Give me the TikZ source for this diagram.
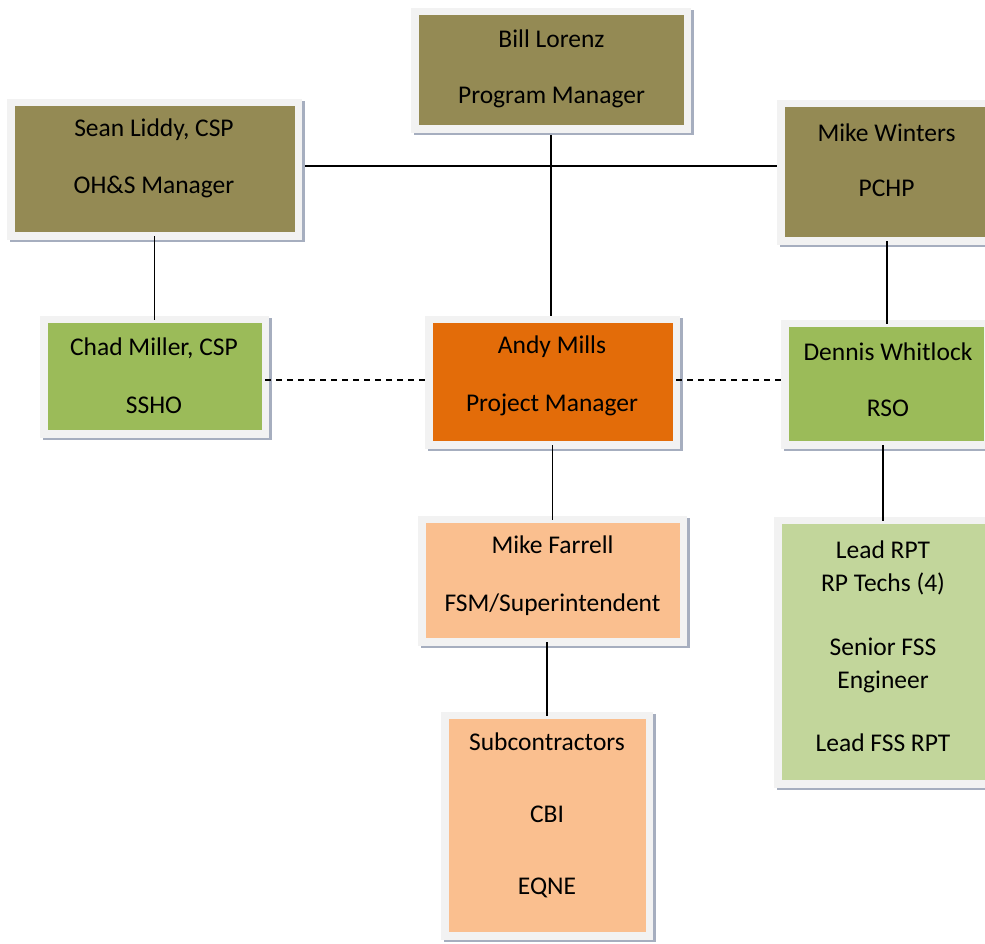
\documentclass[tikz,border=0pt]{standalone}
\usepackage{fontspec}
\setmainfont{Carlito}
\usetikzlibrary{backgrounds}
\definecolor{olivec}{HTML}{948A54}
\definecolor{orangec}{HTML}{E36C09}
\definecolor{greenc}{HTML}{9BBB59}
\definecolor{lgreenc}{HTML}{C2D69B}
\definecolor{peachc}{HTML}{FABF8F}
\definecolor{framec}{HTML}{F2F2F2}
\definecolor{shadowc}{HTML}{A6AEBF}
\tikzset{
  orgbox/.style={rectangle, inner sep=0pt, outer sep=0pt, draw=framec, line width=7.5pt,
    preaction={draw=shadowc, fill=shadowc, line width=7.5pt,
      transform canvas={xshift=2.5pt, yshift=-2.5pt}}},
  txt/.style={font=\fontsize{25.5}{33}\selectfont, align=center, inner sep=0pt, text=black},
  conn/.style={draw=black, line width=1.6pt},
  dconn/.style={conn, dash pattern=on 6pt off 5pt}
}
\begin{document}
\begin{tikzpicture}[x=1pt, y=1pt]
\clip (0,0) rectangle (985,944);
% boxes
\node[orgbox, fill=olivec, minimum width=272.5pt, minimum height=117.5pt] (bill) at (551,873.5) {};
\node[orgbox, fill=olivec, minimum width=287.5pt, minimum height=133.5pt] (sean) at (154.5,774.5) {};
\node[orgbox, fill=olivec, minimum width=212.5pt, minimum height=137.5pt] (winters) at (887,771.5) {};
\node[orgbox, fill=greenc, minimum width=221.5pt, minimum height=114.5pt] (chad) at (154.5,567) {};
\node[orgbox, fill=orangec, minimum width=247.5pt, minimum height=125.5pt] (andy) at (552.5,561.5) {};
\node[orgbox, fill=greenc, minimum width=202.5pt, minimum height=121.5pt] (dennis) at (886,559.5) {};
\node[orgbox, fill=peachc, minimum width=261.5pt, minimum height=122.5pt] (farrell) at (552.5,363) {};
\node[orgbox, fill=lgreenc, minimum width=210.5pt, minimum height=263.5pt] (leadrpt) at (883,291.5) {};
\node[orgbox, fill=peachc, minimum width=204.5pt, minimum height=220.5pt] (sub) at (547,118) {};
% texts
\node[txt] (billT) at (551.5,875) {Bill Lorenz\\[23pt]Program Manager};
\node[txt] (seanT) at (154,785.5) {Sean Liddy, CSP\\[24pt]OH\&S Manager};
\node[txt] (wintersT) at (886.5,783.5) {Mike Winters\\[22pt]PCHP};
\node[txt] (chadT) at (154,568) {Chad Miller, CSP\\[25pt]SSHO};
\node[txt] (andyT) at (552,568) {Andy Mills\\[25pt]Project Manager};
\node[txt] (dennisT) at (888,564) {Dennis Whitlock\\[23pt]RSO};
\node[txt] (farrellT) at (552.5,368) {Mike Farrell\\[25pt]FSM/Superintendent};
\node[txt] (leadrptT) at (883,297.5) {Lead RPT\\RP Techs (4)\\[31pt]Senior FSS\\Engineer\\[30pt]Lead FSS RPT};
\node[txt] (subT) at (547,129) {Subcontractors\\[39pt]CBI\\[39pt]EQNE};
% connectors
\coordinate (hl) at (0,778);
\coordinate (dl) at (0,564);
\begin{pgfonlayer}{background}
\draw[conn] (bill.south) -- (bill.south |- andy.north);
\draw[conn] (sean.east |- hl) -- (winters.west |- hl);
\end{pgfonlayer}
\draw[conn] (sean.south) -- (chad.north);
\draw[conn] (winters.south) -- (winters.south |- dennis.north);
\draw[dconn] (chad.east |- dl) -- (andy.west |- dl);
\draw[dconn] (andy.east |- dl) -- (dennis.west |- dl);
\draw[conn] (andy.south) -- (farrell.north);
\draw[conn] (sub.north |- farrell.south) -- (sub.north);
\draw[conn] (leadrpt.north |- dennis.south) -- (leadrpt.north);
\end{tikzpicture}
\end{document}
